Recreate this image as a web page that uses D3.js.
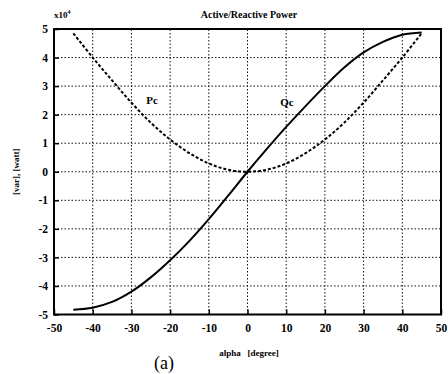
<!DOCTYPE html>
<html>
  <meta charset="utf-8" />
  <head>
    <script src="https://cdnjs.cloudflare.com/ajax/libs/d3/7.8.5/d3.min.js"></script>
    <style>
      body { margin: 0; background: #fff; }
      svg text { font-family: "Liberation Serif", "Times New Roman", serif; }
    </style>
  </head>
  <body>
    <script>
    // alpha in degrees, values in units of 1e4
    const alpha = [-45, -40, -35, -30, -25, -20, -15, -10, -5, 0, 5, 10, 15, 20, 25, 30, 35, 40, 45];
    const pc = [4.85, 4.0, 3.2, 2.42, 1.72, 1.13, 0.65, 0.29, 0.07, 0, 0.07, 0.29, 0.65, 1.13, 1.72, 2.42, 3.2, 4.0, 4.85];
    const qc = [-4.83, -4.76, -4.56, -4.2, -3.7, -3.1, -2.42, -1.66, -0.84, 0, 0.8, 1.57, 2.3, 3.0, 3.65, 4.18, 4.55, 4.8, 4.88];
    const xTicks = [-50, -40, -30, -20, -10, 0, 10, 20, 30, 40, 50];
    const yTicks = [-5, -4, -3, -2, -1, 0, 1, 2, 3, 4, 5];

    const width = 448, height = 374;

    const svg = d3.select("body").append("svg")
        .attr("width", width)
        .attr("height", height);

    const x = d3.scaleLinear().domain([-50, 50]).range([54, 441]);
    const y = d3.scaleLinear().domain([-5, 5]).range([314.5, 29]);

    // grid (dotted)
    svg.append("g").selectAll("line").data(xTicks.slice(1, -1)).enter().append("line")
        .attr("x1", d => x(d)).attr("x2", d => x(d))
        .attr("y1", y(-5)).attr("y2", y(5))
        .attr("stroke", "#111").attr("stroke-width", 1)
        .attr("stroke-dasharray", "1.5,2");
    svg.append("g").selectAll("line").data(yTicks.slice(1, -1)).enter().append("line")
        .attr("x1", x(-50)).attr("x2", x(50))
        .attr("y1", d => y(d)).attr("y2", d => y(d))
        .attr("stroke", "#111").attr("stroke-width", 1)
        .attr("stroke-dasharray", "1.5,2");

    // axes
    const fmt = d => String(d);
    const xAxis = svg.append("g")
        .attr("transform", `translate(0,${y(-5)})`)
        .call(d3.axisBottom(x).tickValues(xTicks).tickFormat(fmt).tickSizeInner(-5).tickSizeOuter(0).tickPadding(9));
    const yAxis = svg.append("g")
        .attr("transform", `translate(${x(-50)},0)`)
        .call(d3.axisLeft(y).tickValues(yTicks).tickFormat(fmt).tickSizeInner(-5).tickSizeOuter(0).tickPadding(6));
    [xAxis, yAxis].forEach(a => {
        a.select(".domain").remove();
        a.selectAll(".tick line").attr("stroke", "#000").attr("stroke-width", 1.5);
        a.selectAll(".tick text")
            .attr("fill", "#000")
            .style("font-family", "'Liberation Serif', serif")
            .style("font-size", "11.5px")
            .style("font-weight", "bold");
    });

    // frame
    svg.append("rect")
        .attr("x", x(-50)).attr("y", y(5))
        .attr("width", x(50) - x(-50)).attr("height", y(-5) - y(5))
        .attr("fill", "none").attr("stroke", "#000").attr("stroke-width", 2);

    // curves
    const line = (vals) => d3.line()
        .x((d, i) => x(alpha[i]))
        .y(d => y(d))
        .curve(d3.curveCatmullRom)(vals);

    svg.append("path").attr("d", line(pc))
        .attr("fill", "none").attr("stroke", "#000")
        .attr("stroke-width", 2).attr("stroke-dasharray", "3,2");
    svg.append("path").attr("d", line(qc))
        .attr("fill", "none").attr("stroke", "#000")
        .attr("stroke-width", 2);

    svg.append("text").attr("x", 152).attr("y", 104)
        .attr("text-anchor", "middle").attr("font-size", 11).attr("font-weight", "bold")
        .text("Pc");
    svg.append("text").attr("x", 287).attr("y", 106)
        .attr("text-anchor", "middle").attr("font-size", 11).attr("font-weight", "bold")
        .text("Qc");

    // titles
    svg.append("text").attr("x", 249).attr("y", 18)
        .attr("text-anchor", "middle").attr("font-size", 10).attr("font-weight", "bold")
        .text("Active/Reactive Power");
    const ex = svg.append("text").attr("x", 54).attr("y", 18)
        .attr("font-size", 9).attr("font-weight", "bold");
    ex.append("tspan").text("x10");
    ex.append("tspan").attr("font-size", 6).attr("dy", -4).text("4");

    svg.append("text")
        .attr("transform", `translate(19,${y(0)}) rotate(-90)`)
        .attr("text-anchor", "middle").attr("font-size", 9).attr("font-weight", "bold")
        .text("[var], [watt]");
    svg.append("text").attr("x", 249).attr("y", 356)
        .attr("text-anchor", "middle").attr("font-size", 9).attr("font-weight", "bold")
        .attr("xml:space", "preserve")
        .text("alpha   [degree]");
    svg.append("text").attr("x", 164).attr("y", 369)
        .attr("text-anchor", "middle").attr("font-size", 18)
        .text("(a)");
</script>
</body>
</html>
